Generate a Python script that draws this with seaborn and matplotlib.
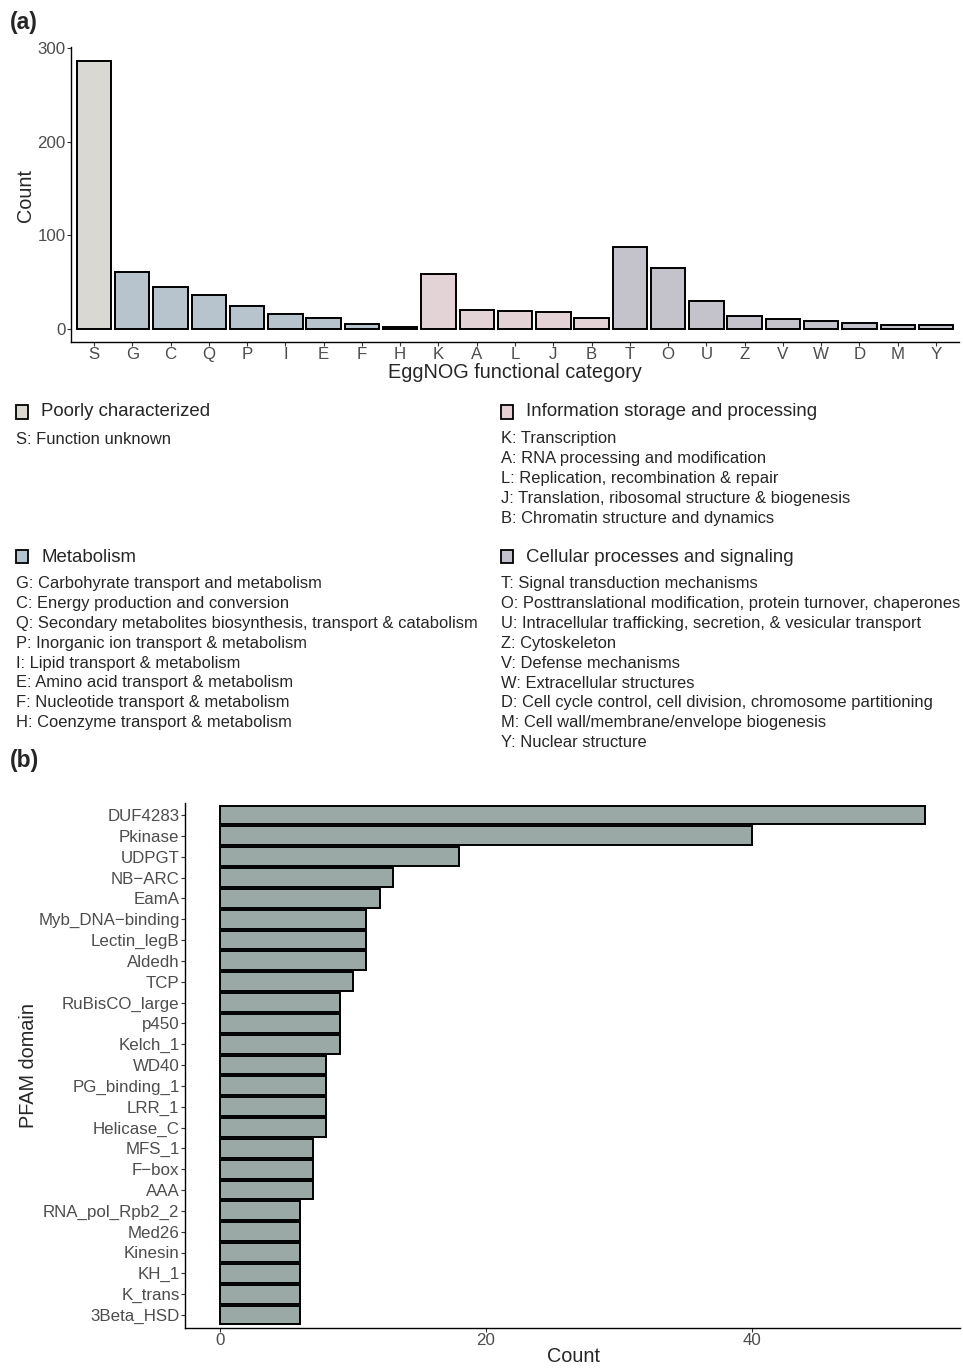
import matplotlib
matplotlib.use("Agg")
import matplotlib.pyplot as plt
import seaborn as sns
import pandas as pd
from matplotlib.patches import Rectangle

# EggNOG categories (panel a)
cog_letters = ["S", "G", "C", "Q", "P", "I", "E", "F", "H", "K", "A", "L",
               "J", "B", "T", "O", "U", "Z", "V", "W", "D", "M", "Y"]
cog_counts = [287, 61, 45, 36, 24, 16, 11, 5, 2, 58, 20, 19,
              18, 11, 87, 65, 30, 14, 10, 8, 6, 4, 4]
cog_groups = ["Poorly characterized"] + ["Metabolism"] * 8 + \
             ["Information storage and processing"] * 5 + \
             ["Cellular processes and signaling"] * 9

group_colors = {
    "Poorly characterized": "#dbd8d1",
    "Metabolism": "#b4c4d1",
    "Information storage and processing": "#e6d0d4",
    "Cellular processes and signaling": "#c3c1cc",
}

poorly_items = ["S: Function unknown"]
metab_items = ["G: Carbohyrate transport and metabolism",
               "C: Energy production and conversion",
               "Q: Secondary metabolites biosynthesis, transport & catabolism",
               "P: Inorganic ion transport & metabolism",
               "I: Lipid transport & metabolism",
               "E: Amino acid transport & metabolism",
               "F: Nucleotide transport & metabolism",
               "H: Coenzyme transport & metabolism"]
info_items = ["K: Transcription",
              "A: RNA processing and modification",
              "L: Replication, recombination & repair",
              "J: Translation, ribosomal structure & biogenesis",
              "B: Chromatin structure and dynamics"]
cell_items = ["T: Signal transduction mechanisms",
              "O: Posttranslational modification, protein turnover, chaperones",
              "U: Intracellular trafficking, secretion, & vesicular transport",
              "Z: Cytoskeleton",
              "V: Defense mechanisms",
              "W: Extracellular structures",
              "D: Cell cycle control, cell division, chromosome partitioning",
              "M: Cell wall/membrane/envelope biogenesis",
              "Y: Nuclear structure"]

# PFAM domains (panel b)
pfam_domains = ["DUF4283", "Pkinase", "UDPGT", "NB\u2212ARC", "EamA",
                "Myb_DNA\u2212binding", "Lectin_legB", "Aldedh", "TCP",
                "RuBisCO_large", "p450", "Kelch_1", "WD40", "PG_binding_1",
                "LRR_1", "Helicase_C", "MFS_1", "F\u2212box", "AAA",
                "RNA_pol_Rpb2_2", "Med26", "Kinesin", "KH_1", "K_trans",
                "3Beta_HSD"]
pfam_counts = [53, 40, 18, 13, 12, 11, 11, 11, 10, 9, 9, 9, 8, 8, 8, 8,
               7, 7, 7, 6, 6, 6, 6, 6, 6]

sns.set_style("ticks")
plt.rcParams["font.family"] = ["Liberation Sans", "DejaVu Sans"]

W, H = 963, 1368
fig = plt.figure(figsize=(W / 100, H / 100), dpi=100)

def fx(x):
    return x / W

def fy(y):
    return 1 - y / H

def rect(x0, y0, x1, y1):
    return [fx(x0), fy(y1), fx(x1) - fx(x0), fy(y0) - fy(y1)]

tick_col = "#4d4d4d"

def style_axes(ax):
    sns.despine(ax=ax)
    for s in ["left", "bottom"]:
        ax.spines[s].set_linewidth(1.0)
        ax.spines[s].set_color("black")
    ax.tick_params(axis="both", length=3, width=0.8, color="#333333",
                   labelcolor=tick_col, labelsize=12.2, pad=0.8)

# ---- panel (a)
df_a = pd.DataFrame({"cat": cog_letters, "count": cog_counts, "group": cog_groups})
ax1 = fig.add_axes(rect(71, 47.1, 959, 342.1))
sns.barplot(data=df_a, x="cat", y="count", hue="group", order=cog_letters,
            palette=group_colors, dodge=False, width=0.9, edgecolor="black",
            linewidth=1.4, legend=False, ax=ax1)
ax1.set_xlim(-0.6, len(cog_letters) - 0.4)
ax1.set_ylim(-14.35, 301.35)
ax1.set_yticks([0, 100, 200, 300])
style_axes(ax1)
ax1.set_xlabel("EggNOG functional category", fontsize=14.3)
ax1.set_ylabel("Count", fontsize=14.3)
ax1.xaxis.set_label_coords(fx(515), fy(373), transform=fig.transFigure)
ax1.xaxis.label.set_va("center")
ax1.yaxis.set_label_coords(fx(25), fy(195), transform=fig.transFigure)
ax1.yaxis.label.set_va("center")

fig.text(fx(10), fy(22), "(a)", fontsize=16.5, fontweight="bold", va="center", ha="left")

# ---- legend blocks
def legend_block(x_sq, y_head, title, color, items, spacing=19.8):
    fig.add_artist(Rectangle((fx(x_sq), fy(y_head + 6.5)), fx(12), 13 / H,
                             transform=fig.transFigure, facecolor=color,
                             edgecolor="black", linewidth=1.3))
    fig.text(fx(x_sq + 25), fy(y_head), title, fontsize=13.4, va="center", ha="left")
    for i, it in enumerate(items):
        fig.text(fx(x_sq), fy(y_head + 27 + i * spacing), it, fontsize=11.9,
                 va="center", ha="left")

legend_block(16, 412, "Poorly characterized", group_colors["Poorly characterized"], poorly_items)
legend_block(16, 557, "Metabolism", group_colors["Metabolism"], metab_items)
legend_block(501, 412, "Information storage and processing",
             group_colors["Information storage and processing"], info_items)
legend_block(501, 557, "Cellular processes and signaling",
             group_colors["Cellular processes and signaling"], cell_items)

# ---- panel (b)
df_b = pd.DataFrame({"domain": pfam_domains, "count": pfam_counts})
ax2 = fig.add_axes(rect(184.8, 802.5, 960, 1327.5))
sns.barplot(data=df_b, x="count", y="domain", orient="h", order=pfam_domains,
            color="#99aba8", width=0.9, edgecolor="black", linewidth=1.4, ax=ax2)
ax2.set_xlim(-2.65, 55.65)
ax2.set_ylim(len(pfam_domains) - 0.4, -0.6)
ax2.set_xticks([0, 20, 40])
style_axes(ax2)
ax2.set_xlabel("Count", fontsize=14.3)
ax2.set_ylabel("PFAM domain", fontsize=14.3)
ax2.xaxis.set_label_coords(fx(573), fy(1357), transform=fig.transFigure)
ax2.xaxis.label.set_va("center")
ax2.yaxis.set_label_coords(fx(28), fy(1065), transform=fig.transFigure)
ax2.yaxis.label.set_va("center")

fig.text(fx(10), fy(760), "(b)", fontsize=16.5, fontweight="bold", va="center", ha="left")

fig.savefig("out.png", dpi=100)
